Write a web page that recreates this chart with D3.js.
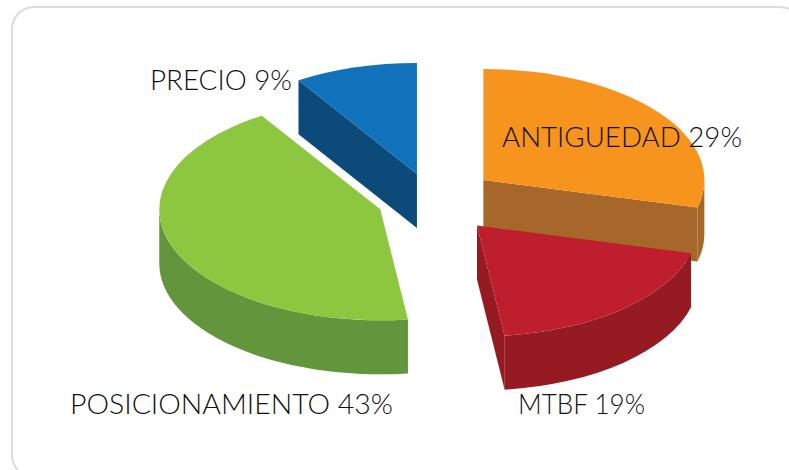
<!DOCTYPE html>
<html>
<head>
<meta charset="utf-8">
<script src="https://cdn.jsdelivr.net/npm/d3@7"></script>
<style>
  body { margin: 0; background: #fff; }
  svg { display: block; }
</style>
</head>
<body>
<svg id="chart" width="789" height="470"></svg>
<script>
// data, clockwise from 12 o'clock
const categories = ["ANTIGUEDAD", "MTBF", "POSICIONAMIENTO", "PRECIO"];
const values = [29, 19, 43, 9];

// styling
const topColors = ["#f7941e", "#be1e2d", "#8dc63f", "#1172bb"];
const sideColors = ["#a8672a", "#961a21", "#63963c", "#0c4a7a"];
const explode = [65, 68, 55, 54];
const labelX = [502, 518, 70, 150];
const labelY = [147, 414, 414, 90];
const labelW = [240, 127, 323, 142];

const svg = d3.select("#chart");

const cx = 432;
const cy = 200;
const rx = 221;
const ry = 111;
const depth = 54;

// card
svg.append("rect")
  .attr("x", 12)
  .attr("y", 7)
  .attr("width", 790)
  .attr("height", 470)
  .attr("rx", 22)
  .attr("fill", "#fff")
  .attr("stroke", "#dcdcdc")
  .attr("stroke-width", 2);

const pie = d3.pie().sort(null).value(d => d);
const arcs = pie(values).map((d, i) => {
  const mid = (d.startAngle + d.endAngle) / 2;
  return {
    ...d,
    i: i,
    ax: cx + explode[i] * Math.sin(mid),
    ay: cy - explode[i] * Math.cos(mid) * ry / rx,
  };
});

function pt(d, a, dz = 0) {
  return [d.ax + rx * Math.sin(a), d.ay - ry * Math.cos(a) + dz];
}

function topPath(d) {
  const p0 = pt(d, d.startAngle);
  const p1 = pt(d, d.endAngle);
  const large = d.endAngle - d.startAngle > Math.PI ? 1 : 0;
  return `M${d.ax},${d.ay}L${p0}A${rx},${ry} 0 ${large} 1 ${p1}Z`;
}

function outerPath(d) {
  const s = Math.max(d.startAngle, Math.PI / 2);
  const e = Math.min(d.endAngle, Math.PI * 3 / 2);
  if (e <= s) return null;
  const p0 = pt(d, s), p1 = pt(d, e);
  const q0 = pt(d, s, depth), q1 = pt(d, e, depth);
  const large = e - s > Math.PI ? 1 : 0;
  return `M${p0}A${rx},${ry} 0 ${large} 1 ${p1}L${q1}A${rx},${ry} 0 ${large} 0 ${q0}Z`;
}

function radialPath(d, a) {
  const p = pt(d, a);
  const q = pt(d, a, depth);
  return `M${d.ax},${d.ay}L${p}L${q}L${d.ax},${d.ay + depth}Z`;
}

const g = svg.append("g");

// back to front
arcs.slice().sort((a, b) => a.ay - b.ay).forEach(d => {
  const slice = g.append("g");
  const side = sideColors[d.i];

  if (Math.sin(d.startAngle) < -1e-6) {
    slice.append("path").attr("d", radialPath(d, d.startAngle)).attr("fill", side);
  }
  if (Math.sin(d.endAngle) > 1e-6) {
    slice.append("path").attr("d", radialPath(d, d.endAngle)).attr("fill", side);
  }
  const op = outerPath(d);
  if (op) slice.append("path").attr("d", op).attr("fill", side);

  slice.append("path").attr("d", topPath(d)).attr("fill", topColors[d.i]);
});

// labels
svg.append("g")
  .selectAll("text")
  .data(arcs)
  .join("text")
  .attr("x", d => labelX[d.i])
  .attr("y", d => labelY[d.i])
  .attr("textLength", d => labelW[d.i])
  .attr("lengthAdjust", "spacingAndGlyphs")
  .attr("font-family", "Lato, 'Liberation Sans', sans-serif")
  .attr("font-weight", 300)
  .attr("font-size", 28)
  .attr("fill", "#111")
  .text(d => `${categories[d.i]} ${d.data}%`);
</script>
</body>
</html>
